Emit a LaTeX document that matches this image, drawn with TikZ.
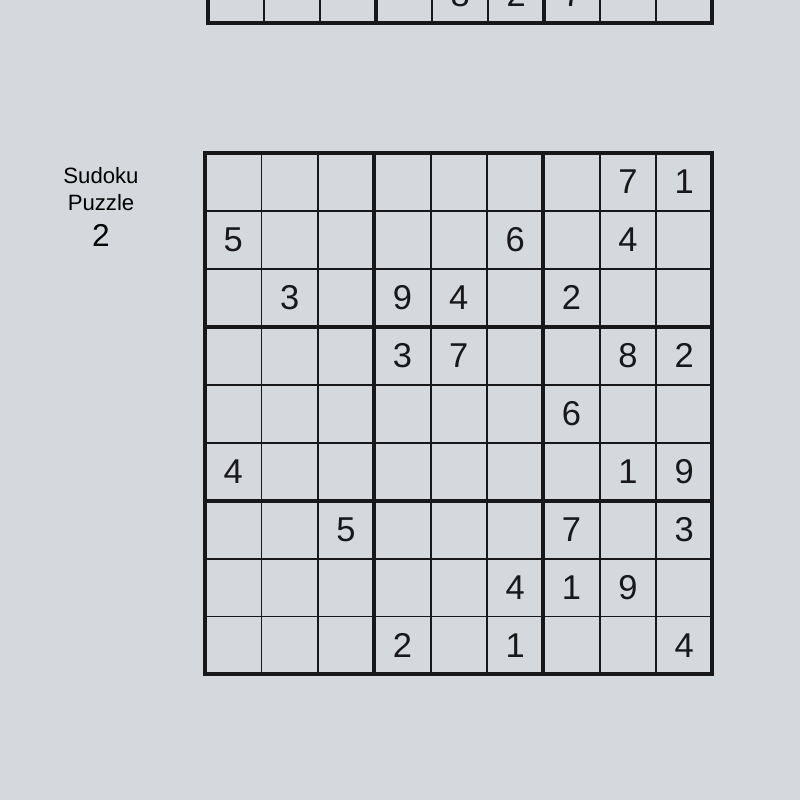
\documentclass[tikz,border=0pt]{standalone}
\usepackage{fontspec}
\usetikzlibrary{positioning}
\setmainfont{Liberation Sans}
\definecolor{paper}{RGB}{213,216,220}
\definecolor{ink}{RGB}{24,24,27}
\definecolor{label}{RGB}{45,45,48}
\begin{document}
\begin{tikzpicture}[x=0.01cm,y=-0.01cm,
  thinline/.style={ink,line width=0.55pt},
  thickline/.style={ink,line width=1.15pt,line cap=rect},
  digit/.style={ink,inner sep=0pt,font=\fontsize{9.8}{11}\selectfont}]
  \useasboundingbox (0,0) rectangle (800,800);
  \fill[paper] (0,0) rectangle (800,800);
  \clip (0,0) rectangle (800,800);
  % bottom row of the puzzle above
  \begin{scope}[xshift=2.08cm,yshift=-0.23cm,x=0.56cm,y=-0.5767cm]
   \foreach \c in {1,2,4,5,7,8}
    \draw[thinline] (\c,-1) -- (\c,0);
   \foreach \c in {0,3,6,9}
    \draw[thickline] (\c,-1) -- (\c,0);
   \draw[thickline] (0,0) -- (9,0);
   \foreach \c/\d in {5/8,6/2,7/7}
    \node[digit] (p\c) at (\c-0.5,-0.5) {\d};
  \end{scope}
  % title
  \node[label,align=center,font=\fontsize{6.3}{7.6}\selectfont] (title) at (101,189)
   {Sudoku\\Puzzle};
  \node[label,font=\fontsize{9}{10}\selectfont,below=-3pt of title] (num) {2};
  % puzzle 2
  \begin{scope}[xshift=2.05cm,yshift=-1.53cm,x=0.5633cm,y=-0.5789cm]
   \foreach \i in {1,2,4,5,7,8} {
    \draw[thinline] (\i,0) -- (\i,9);
    \draw[thinline] (0,\i) -- (9,\i);
   }
   \foreach \i in {0,3,6,9} {
    \draw[thickline] (\i,0) -- (\i,9);
    \draw[thickline] (0,\i) -- (9,\i);
   }
   \foreach \r/\c/\d in {1/8/7,1/9/1,2/1/5,2/6/6,2/8/4,
     3/2/3,3/4/9,3/5/4,3/7/2,4/4/3,4/5/7,4/8/8,4/9/2,5/7/6,
     6/1/4,6/8/1,6/9/9,7/3/5,7/7/7,7/9/3,8/6/4,8/7/1,8/8/9,
     9/4/2,9/6/1,9/9/4}
    \node[digit] (d\r\c) at (\c-0.5,\r-0.5) {\d};
  \end{scope}
\end{tikzpicture}
\end{document}
